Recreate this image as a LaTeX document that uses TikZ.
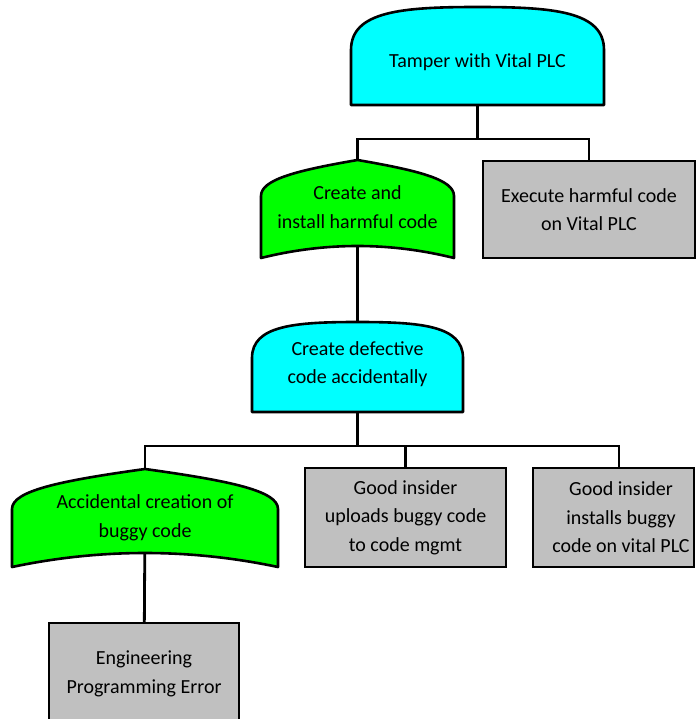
\documentclass[tikz,border=0pt]{standalone}
\usepackage{fontspec}
\setmainfont{Carlito}
\usetikzlibrary{calc,backgrounds}

\definecolor{andcyan}{RGB}{0,255,255}
\definecolor{orgreen}{RGB}{0,255,0}
\definecolor{basegray}{RGB}{192,192,192}

\tikzset{
  treetext/.style={font=\fontsize{20}{28.5}\selectfont, align=center, text=black},
  gatebox/.style={inner sep=0pt, outer sep=0pt},
  eventbox/.style={treetext, draw=black, fill=basegray, line width=2.6pt,
                   inner sep=0pt, outer sep=0pt},
  gateline/.style={draw=black, line width=2.6pt, line join=round},
  wire/.style={draw=black, line width=2.8pt},
}

% AND gate: flat base, vertical sides, domed top
% #1 node, #2 fill, #3 dome depth
\newcommand{\andgate}[3]{%
  \path[gateline, fill=#2] let \p1=(#1.south west), \p2=(#1.north east) in
    (\x1,\y1) -- (\x1,{\y2-#3})
    .. controls (\x1,{\y2-0.1*#3}) and ({0.8*\x1+0.2*\x2},\y2) .. ({0.5*\x1+0.5*\x2},\y2)
    .. controls ({0.2*\x1+0.8*\x2},\y2) and (\x2,{\y2-0.1*#3}) .. (\x2,{\y2-#3})
    -- (\x2,\y1) -- cycle;}

% OR gate: pointed top, vertical sides, concave base
% #1 node, #2 fill, #3 shoulder depth, #4 rise of the base
\newcommand{\orgate}[4]{%
  \path[gateline, fill=#2] let \p1=(#1.south west), \p2=(#1.north east) in
    (\x1,\y1) -- (\x1,{\y2-#3})
    .. controls (\x1,{\y2-0.55*#3}) and ({0.825*\x1+0.175*\x2},{\y2-0.3*#3}) .. ({0.5*\x1+0.5*\x2},\y2)
    .. controls ({0.175*\x1+0.825*\x2},{\y2-0.3*#3}) and (\x2,{\y2-0.55*#3}) .. (\x2,{\y2-#3})
    -- (\x2,\y1)
    .. controls ({\x1/3+2*\x2/3},{\y1+#4*4/3}) and ({2*\x1/3+\x2/3},{\y1+#4*4/3}) .. cycle;}

\begin{document}
\begin{tikzpicture}[x=1pt, y=-1pt]
  \useasboundingbox (0,0) rectangle (696,719);

  % gates
  \node[gatebox, minimum width=253pt, minimum height=98pt,
        label={[treetext, yshift=-6pt]center:Tamper with Vital PLC}] (tamper) at (477.5,56) {};
  \node[gatebox, minimum width=193pt, minimum height=98pt,
        label={[treetext, yshift=2pt]center:{Create and\\install harmful code}}] (install) at (357.5,209) {};
  \node[gatebox, minimum width=211pt, minimum height=90pt,
        label={[treetext, yshift=3pt]center:{Create defective\\code accidentally}}] (defect) at (357.5,367) {};
  \node[gatebox, minimum width=266pt, minimum height=98pt,
        label={[treetext, yshift=0pt]center:{Accidental creation of\\buggy code}}] (accident) at (145,518) {};

  % basic events
  \node[eventbox, minimum width=212pt, minimum height=97pt] (execute) at (589,209.5)
    {Execute harmful code\\on Vital PLC};
  \node[eventbox, minimum width=201pt, minimum height=99pt] (good1) at (405.5,517.5)
    {Good insider\\uploads buggy code\\to code mgmt};
  \node[eventbox, minimum width=161pt, minimum height=99pt] (good2) at (613.5,517.5) {};
  \node[treetext] (good2text) at (621,517.5) {Good insider\\installs buggy\\code on vital PLC};
  \node[eventbox, minimum width=190pt, minimum height=102pt] (engineer) at (144,674)
    {Engineering\\Programming Error};

  % junction levels
  \coordinate (j1) at (0,139);
  \coordinate (j2) at (0,446);
  \coordinate (drop3) at ($(good2.center)+(5.5,0)$);

  \begin{pgfonlayer}{background}
    \draw[wire] (tamper.center) -- (tamper.center |- j1);
    \draw[wire] (install.center) |- (execute.center |- j1) -- (execute.center);
    \draw[wire] (install.center) -- (defect.center);
    \draw[wire] (defect.center) -- (defect.center |- j2);
    \draw[wire] (accident.center) |- (drop3 |- j2) -- (drop3);
    \draw[wire] (good1.center) -- (good1.center |- j2);
    \draw[wire] (accident.center) -- (engineer.center);

    \andgate{tamper}{andcyan}{43pt}
    \orgate{install}{orgreen}{36pt}{12pt}
    \andgate{defect}{andcyan}{36pt}
    \orgate{accident}{orgreen}{40pt}{14pt}
  \end{pgfonlayer}
\end{tikzpicture}
\end{document}
